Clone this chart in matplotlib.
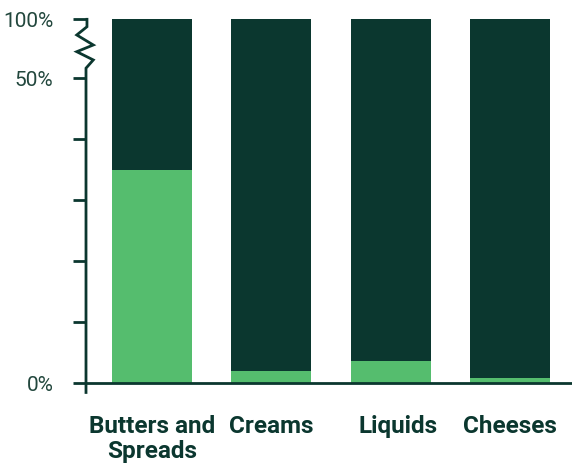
import numpy as np
import matplotlib.pyplot as plt
import matplotlib.transforms as mtransforms
from matplotlib.ticker import FixedLocator, FixedFormatter

# data (share of products, %)
categories = ["Butters and\nSpreads", "Creams", "Liquids", "Cheeses"]
light_share = [35, 2.1, 3.7, 0.9]
total = [100, 100, 100, 100]

tick_vals = [0, 10, 20, 30, 40, 50, 100]
tick_labels = ["0%", "", "", "", "", "50%", "100%"]

dark = "#0b372f"
light = "#55bd6e"
txt = "#22473d"

plt.rcParams['font.family'] = ['Roboto', 'DejaVu Sans']

# broken axis: everything above 50% squeezed
k = 0.193


def fwd(v):
    v = np.asarray(v, dtype=float)
    return np.where(v <= 50, v, 50 + (v - 50) * k)


def inv(u):
    u = np.asarray(u, dtype=float)
    return np.where(u <= 50, u, 50 + (u - 50) / k)


fig = plt.figure(figsize=(5.72, 4.63), dpi=100)
ax = fig.add_axes([86 / 572, 0.1721, 486 / 572, 0.7862])
ax.set_yscale('function', functions=(fwd, inv))

x = np.arange(len(categories))
w = 0.67
ax.bar(x, light_share, width=w, color=light, zorder=2)
ax.bar(x, np.array(total) - np.array(light_share), bottom=light_share,
       width=w, color=dark, zorder=2)

ax.set_xlim(-0.553, 3.52)
ax.set_ylim(0, 100)

for s in ['top', 'right', 'left']:
    ax.spines[s].set_visible(False)
ax.spines['bottom'].set_color(dark)
ax.spines['bottom'].set_linewidth(2)
ax.spines['bottom'].set_zorder(3)

# left axis with zigzag break
zx = [0, 0, 0, 0.015, -0.019, 0.015, -0.019, 0.002, 0.002]
zy = [-1.5, 0, 58.5, 65.5, 72.5, 78.2, 86.7, 93.7, 100]
ax.plot(zx, zy, color=dark, lw=2, transform=ax.get_yaxis_transform(),
        clip_on=False, zorder=3, solid_joinstyle='miter')

ax.yaxis.set_major_locator(FixedLocator(tick_vals))
ax.yaxis.set_major_formatter(FixedFormatter(tick_labels))
ax.yaxis.set_minor_locator(FixedLocator([]))
ax.tick_params(axis='y', length=9.5, width=2, color=dark, pad=14,
               labelsize=15, labelcolor=txt)

ax.set_xticks(x)
ax.set_xticklabels(categories, fontsize=17.5, fontweight='bold', color=dark,
                   linespacing=1.12)
ax.tick_params(axis='x', length=0, pad=23)

# the Liquids label sits a bit right of its bar
lab = ax.get_xticklabels()[2]
lab.set_transform(lab.get_transform() +
                  mtransforms.ScaledTranslation(7 / 100, 0, fig.dpi_scale_trans))

fig.savefig("out.png", dpi=100)
